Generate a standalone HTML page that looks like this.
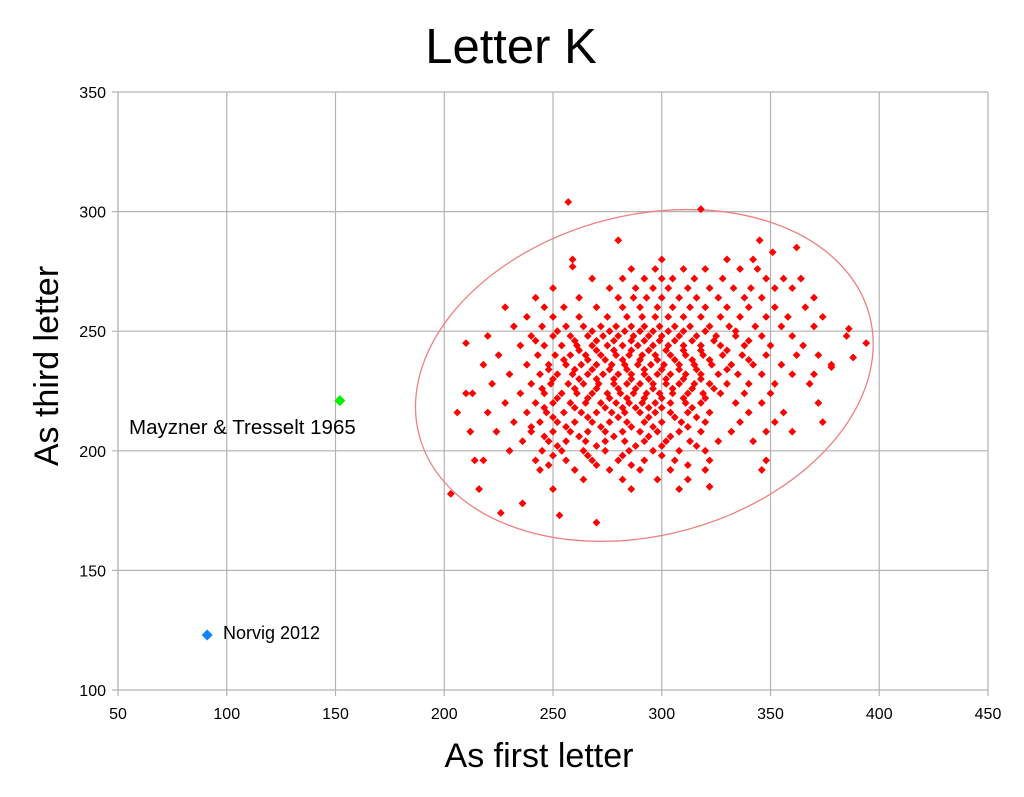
<!DOCTYPE html>
<html><head><meta charset="utf-8"><style>
body{margin:0;background:#fff;font-family:"Liberation Sans",sans-serif}
svg text{font-family:"Liberation Sans",sans-serif}
</style></head><body>
<svg id="chart" width="1024" height="792" xmlns="http://www.w3.org/2000/svg">
<rect width="1024" height="792" fill="#fff"/>
<text x="511" y="63" font-size="49" text-anchor="middle">Letter K</text>
<g id="grid"></g>
<g id="axes"></g>
<ellipse id="ell" fill="none" stroke="#f08080" stroke-width="1.3"/>
<g id="pts"></g>
<text x="539" y="767" font-size="34" text-anchor="middle">As first letter</text>
<text transform="translate(58,366) rotate(-90)" font-size="34" text-anchor="middle">As third letter</text>
</svg>
<script>
const xTicks=[50,100,150,200,250,300,350,400,450];
const yTicks=[100,150,200,250,300,350];
const rowY=[280,276,272,268,264,260,256,252,250,248,246,244,242,240,238,236,234,232,230,228,226,224,222,220,218,216,214,212,210,208,206,204,202,200,198,196,194,192,188,184];
const rowX=[
[259,300,330,342],
[286,297,310,320,336,344],
[268,282,292,300,305,315,328,348,356,364],
[250,276,288,296,303,312,322,333,341,352,360],
[242,262,280,287,293,300,308,316,326,338,346,370],
[228,246,255,270,282,290,298,305,313,320,330,340,352,366],
[238,250,262,275,284,291,297,303,310,318,327,336,348,358,374],
[232,245,256,264,272,279,286,292,299,306,313,322,331,343,355,370],
[252,268,276,283,290,296,303,310,320,334],
[220,240,250,258,266,273,280,287,294,300,308,316,325,334,346,360,385],
[242,260,270,278,286,292,299,306,314,324,340],
[235,246,254,261,268,275,282,289,296,303,310,318,327,338,350,365],
[262,270,278,286,294,302,310,318,330],
[225,243,251,258,265,272,279,285,291,297,304,311,319,328,337,348,362,372],
[255,266,274,282,290,298,306,314,322,340],
[218,238,248,256,263,270,277,283,289,295,301,308,315,323,332,342,355,378],
[248,260,268,276,284,292,300,308,316,330],
[230,244,252,259,266,273,280,286,292,298,304,311,318,326,335,346,360,370],
[250,262,270,278,286,294,302,310,318],
[222,240,249,257,264,271,278,284,290,296,302,308,315,322,330,340,352,368],
[245,260,270,280,288,296,305,314,324],
[210,235,246,254,261,268,275,281,287,293,299,305,312,319,327,338,350],
[252,266,276,284,292,300,310,320],
[228,242,250,258,265,272,279,285,291,297,304,311,318,334,346,372],
[246,260,274,282,288,294,300,314],
[220,238,247,255,263,270,277,283,290,297,304,312,322,340,356],
[250,266,280,294,306,316],
[232,244,252,260,268,276,284,292,300,309,320,336,352,374],
[240,256,272,286,296,312],
[224,240,250,258,266,274,282,290,298,308,318,332,348,360],
[246,262,278,294,304],
[236,248,256,265,274,283,292,302,313,326,342],
[252,270,288,300,316],
[230,245,254,264,274,285,296,308,320],
[250,266,282,300],
[218,242,256,268,280,292,306,322,348],
[248,270,286,312],
[244,260,276,290,304,320],
[264,282,298,312],
[250,286,308]];
const outX=[257,318,203,210,226,253,270,236,394,388,386,378,346,322,345,362,351,280,259,212,206,214,216,213];
const outY=[304,301,182,245,174,173,170,178,245,239,251,235,192,185,288,285,283,288,277,208,216,196,184,224];
const extraLabels=["Mayzner & Tresselt 1965","Norvig 2012"];
const extraX=[152,91];
const extraY=[221,123];
const extraColor=["#00ee00","#0a84ff"];

const NS="http://www.w3.org/2000/svg";
const sx=v=>118+(v-50)*870/400;
const sy=v=>690-(v-100)*598/250;
function mk(tag,at,parent){const e=document.createElementNS(NS,tag);for(const k in at)e.setAttribute(k,at[k]);parent.appendChild(e);return e;}
const grid=document.getElementById('grid'),axes=document.getElementById('axes'),pts=document.getElementById('pts');
xTicks.forEach(t=>{
  const l=mk('line',{x1:sx(t),x2:sx(t),y1:92,y2:696,stroke:'#b3b3b3','stroke-width':1.2},grid);
  
  
  const tx=mk('text',{x:sx(t),y:719,'font-size':16,'text-anchor':'middle'},axes);
  tx.textContent=t;
  
  
});
yTicks.forEach(t=>{
  const l=mk('line',{x1:112,x2:988,y1:sy(t),y2:sy(t),stroke:'#b3b3b3','stroke-width':1.2},grid);
  
  
  const tx=mk('text',{x:106,y:sy(t)+6,'font-size':16,'text-anchor':'end'},axes);
  tx.textContent=t;
  
  
});
const el=document.getElementById('ell');
el.setAttribute('cx',sx(292));el.setAttribute('cy',sy(231.5));
el.setAttribute('rx',233);el.setAttribute('ry',160);
el.setAttribute('transform',`rotate(-15 ${sx(292)} ${sy(231.5)})`);
function dia(x,y,r,c,parent){return mk('path',{d:`M${x} ${y-r}L${x+r} ${y}L${x} ${y+r}L${x-r} ${y}Z`,fill:c},parent);}
rowY.forEach((y,i)=>rowX[i].forEach(x=>{
  const p=dia(sx(x),sy(y),3.9,'#ff0000',pts);
  
  
}));
outX.forEach((x,i)=>{
  const p=dia(sx(x),sy(outY[i]),3.9,'#ff0000',pts);
  
  
});
const svg=document.getElementById('chart');
extraX.forEach((x,i)=>{
  const p=dia(sx(x),sy(extraY[i]),5.5,extraColor[i],svg);
  
  
});
const l1=mk('text',{x:129,y:434,'font-size':20.5},svg);l1.textContent=extraLabels[0];


const l2=mk('text',{x:223,y:639,'font-size':18},svg);l2.textContent=extraLabels[1];


const ax=mk('line',{x1:118,x2:118,y1:92,y2:690,stroke:'#b3b3b3','stroke-width':1.2},axes);


</script>
</body></html>
